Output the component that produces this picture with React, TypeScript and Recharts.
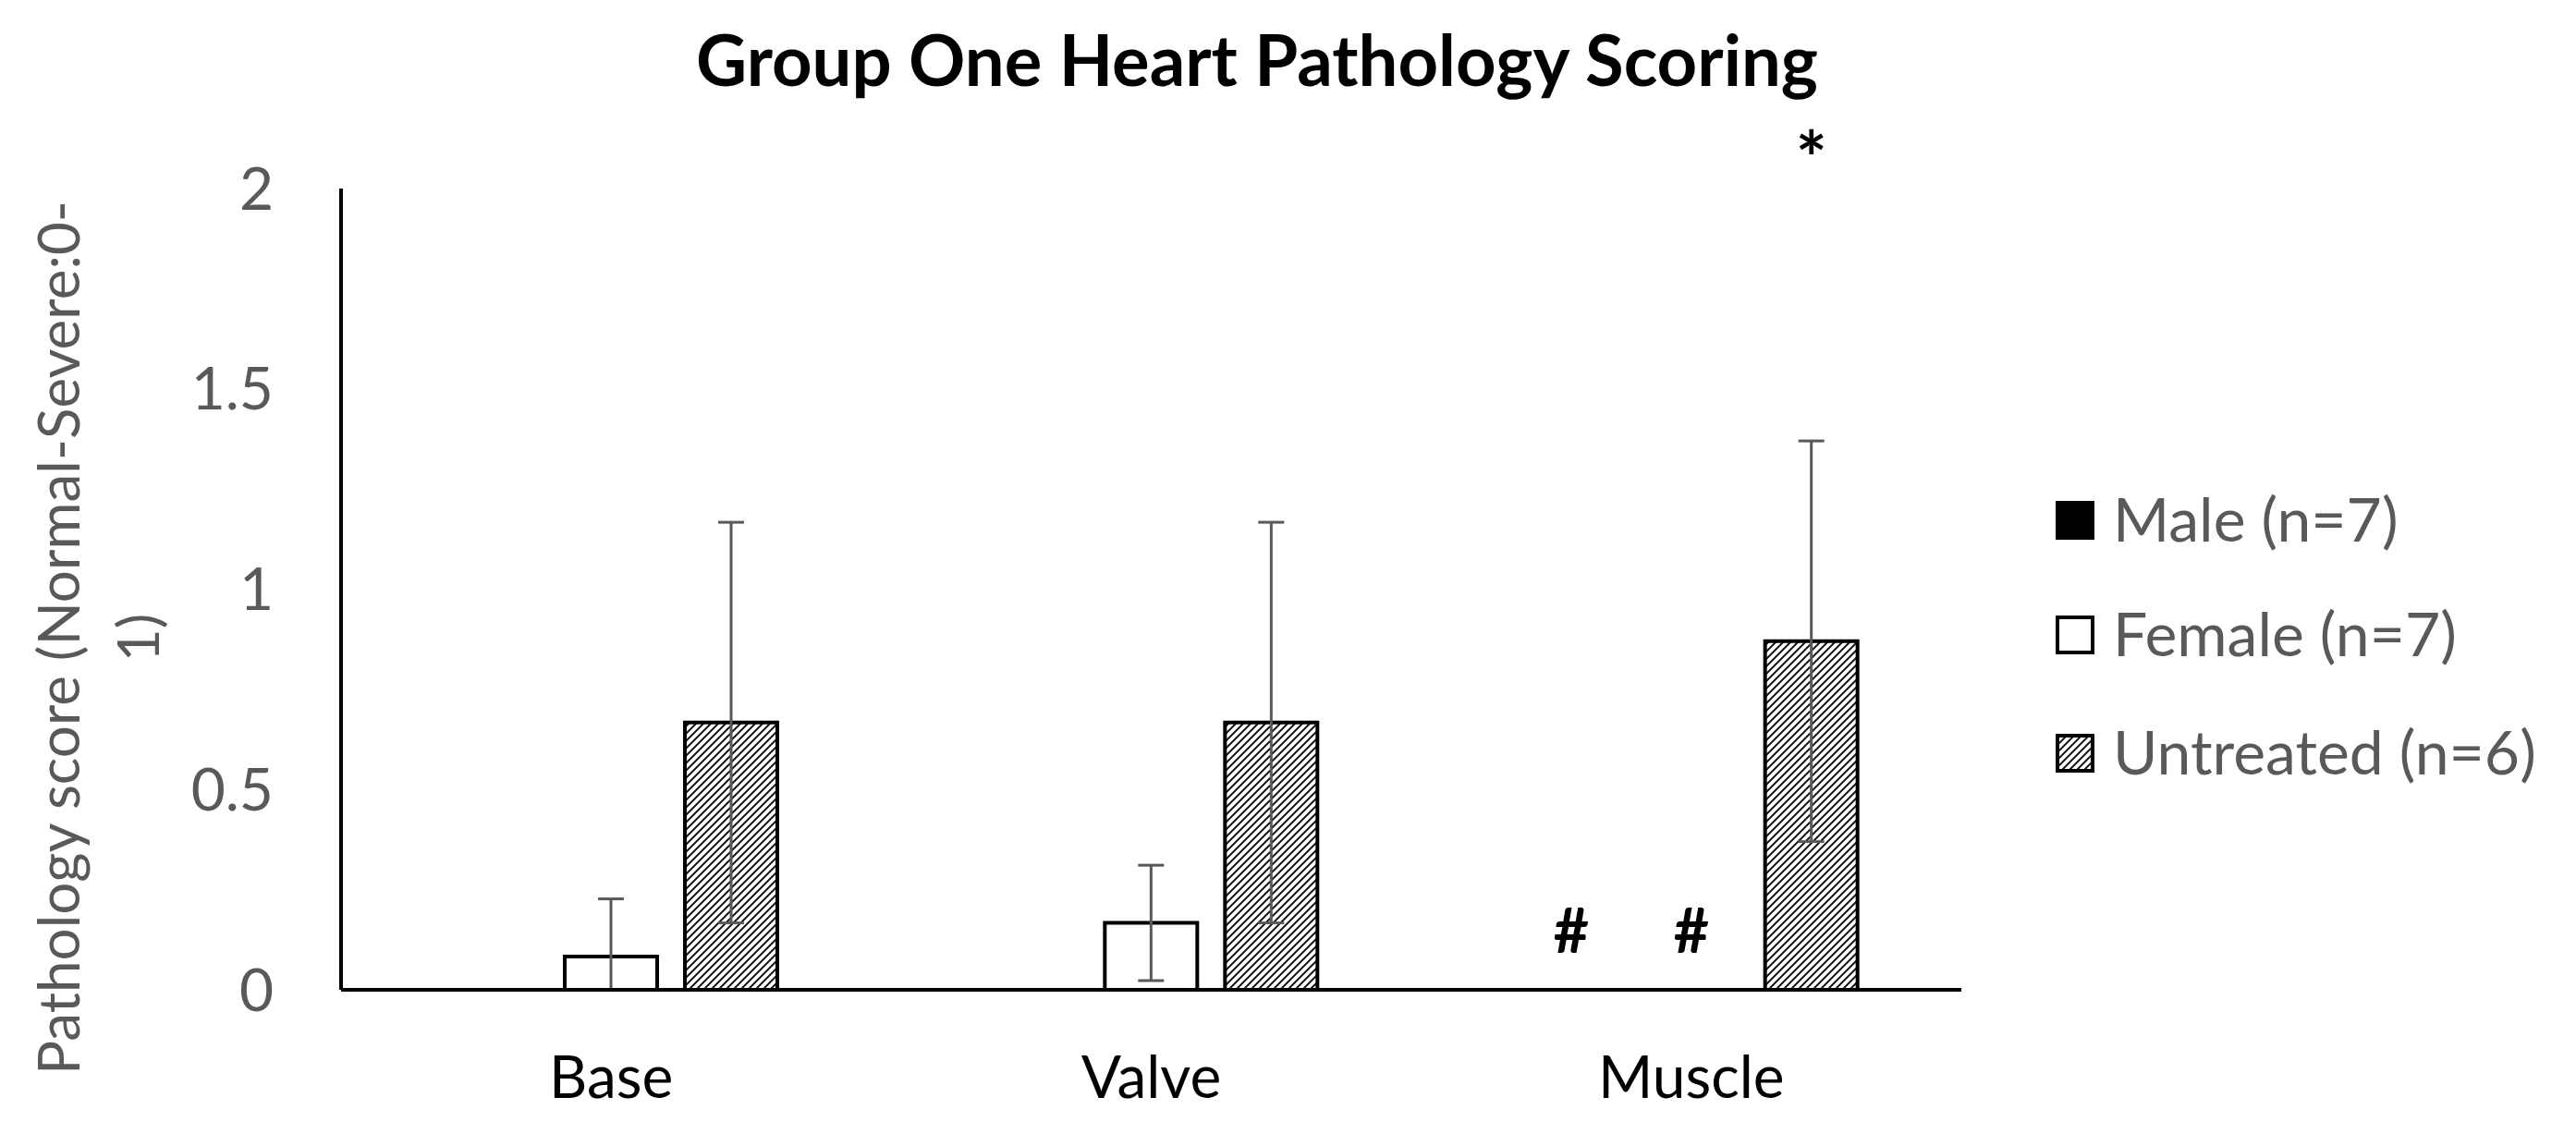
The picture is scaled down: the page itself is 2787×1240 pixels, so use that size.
import React from 'react';
import { BarChart, Bar, XAxis, YAxis, ErrorBar, ReferenceDot } from 'recharts';

// values
const categories = ['Base', 'Valve', 'Muscle'];
const maleValues = [0, 0, 0];
const femaleValues = [0.083, 0.167, 0];
const untreatedValues = [0.667, 0.667, 0.87];
const femaleErrLow = [0.083, 0.144, null];
const femaleErrHigh = [0.144, 0.144, null];
const untreatedErr = [0.5, 0.5, 0.5];
const yTicks = [0, 0.5, 1, 1.5, 2];

const seriesNames = ['Male (n=7)', 'Female (n=7)', 'Untreated (n=6)'];

// significance marks (# / *)
const markCategory = ['Muscle', 'Muscle', 'Muscle'];
const markSeries = [0, 1, 2];
const markValue = [0.148, 0.148, 2.11];
const markText = ['#', '#', '*'];

const data = categories.map((c, i) => ({
  category: c,
  male: maleValues[i],
  female: femaleValues[i],
  untreated: untreatedValues[i],
  femaleErr: femaleErrLow[i] == null ? null : [femaleErrLow[i], femaleErrHigh[i]],
  untreatedErr: untreatedErr[i],
}));

const W = 2787;
const H = 1240;
const BAR = 100;
const GAP = 30;
const FONT = 'Lato, "Open Sans", sans-serif';
const GREY = '#595959';

const markShape = (seriesIdx: number, text: string) => (p: any) => (
  <text
    x={p.cx + (seriesIdx - 1) * (BAR + GAP)}
    y={p.cy}
    dy={text === '*' ? '0.56em' : '0.36em'}
    textAnchor="middle"
    fontFamily={FONT}
    fontWeight={700}
    fontSize={text === '*' ? 80 : 66}
    fill="#000"
  >
    {text}
  </text>
);

const legendRows = [563, 687, 815];
const legendFills = ['#000', '#fff', 'url(#hatch-legend)'];

export default function App() {
  return (
    <div style={{ position: 'absolute', left: 0, top: 0, width: W, height: H, background: '#fff' }}>
      <BarChart
        width={W}
        height={H}
        data={data}
        margin={{ top: 204, right: 665, bottom: 49, left: 0 }}
        barSize={BAR}
        barGap={GAP}
      >
        <defs>
          <pattern id="hatch" patternUnits="userSpaceOnUse" width="8" height="8">
            <rect width="8" height="8" fill="#fff" />
            <path d="M-2,2 l4,-4 M0,8 l8,-8 M6,10 l4,-4" stroke="#1a1a1a" strokeWidth="2" />
          </pattern>
        </defs>
        <Bar dataKey="male" name={seriesNames[0]} fill="#000" stroke="#000" strokeWidth={4} isAnimationActive={false} />
        <Bar dataKey="female" name={seriesNames[1]} fill="#fff" stroke="#000" strokeWidth={4} isAnimationActive={false}>
          <ErrorBar dataKey="femaleErr" direction="y" width={14} stroke={GREY} strokeWidth={3} isAnimationActive={false} />
        </Bar>
        <Bar dataKey="untreated" name={seriesNames[2]} fill="url(#hatch)" stroke="#000" strokeWidth={4} isAnimationActive={false}>
          <ErrorBar dataKey="untreatedErr" direction="y" width={14} stroke={GREY} strokeWidth={3} isAnimationActive={false} />
        </Bar>
        <XAxis
          dataKey="category"
          height={120}
          axisLine={{ stroke: '#000', strokeWidth: 4 }}
          tickLine={false}
          tickSize={0}
          tickMargin={72}
          tick={{ fill: '#000', fontSize: 64, fontFamily: FONT }}
        />
        <YAxis
          width={369}
          domain={[0, 2]}
          ticks={yTicks}
          axisLine={{ stroke: '#000', strokeWidth: 4 }}
          tickLine={false}
          tickSize={0}
          tickMargin={73}
          tick={{ fill: GREY, fontSize: 64, fontFamily: FONT }}
        />
        {markText.map((t, i) => (
          <ReferenceDot
            key={i}
            x={markCategory[i]}
            y={markValue[i]}
            r={1}
            ifOverflow="visible"
            shape={markShape(markSeries[i], t)}
          />
        ))}
      </BarChart>

      <svg width={W} height={H} style={{ position: 'absolute', left: 0, top: 0, pointerEvents: 'none' }}>
        <defs>
          <pattern id="hatch-legend" patternUnits="userSpaceOnUse" width="8" height="8">
            <rect width="8" height="8" fill="#fff" />
            <path d="M-2,2 l4,-4 M0,8 l8,-8 M6,10 l4,-4" stroke="#1a1a1a" strokeWidth="2" />
          </pattern>
        </defs>
        <text x={1360} y={93} textAnchor="middle" fontFamily={FONT} fontWeight={700} fontSize={76} fill="#000">
          Group One Heart Pathology Scoring
        </text>
        <text transform="rotate(-90)" textAnchor="middle" fontFamily={FONT} fontSize={62} fill={GREY}>
          <tspan x={-690} y={86}>Pathology score (Normal-Severe:0-</tspan>
          <tspan x={-690} y={172}>1)</tspan>
        </text>
        {seriesNames.map((name, i) => (
          <g key={name}>
            <rect x={2226} y={legendRows[i] - 19} width={38} height={38} fill={legendFills[i]} stroke="#000" strokeWidth={4} />
            <text x={2286} y={legendRows[i] + 23} fontFamily={FONT} fontSize={66} fill={GREY}>
              {name}
            </text>
          </g>
        ))}
      </svg>
    </div>
  );
}
